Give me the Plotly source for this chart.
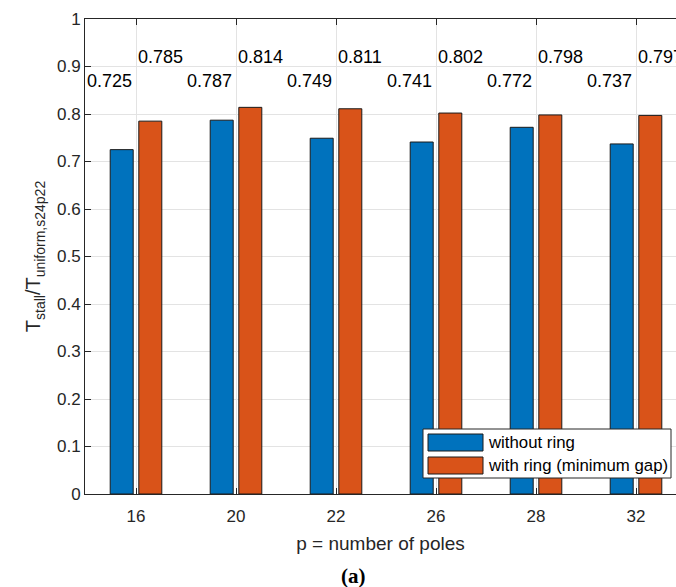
import plotly.graph_objects as go

categories = ["16", "20", "22", "26", "28", "32"]
without_ring = [0.725, 0.787, 0.749, 0.741, 0.772, 0.737]
with_ring = [0.785, 0.814, 0.811, 0.802, 0.798, 0.797]
series_names = ["without ring", "with ring (minimum gap)"]
colors = ["#0072BD", "#D95319"]
label_y = [0.87, 0.92]

FONT = "Liberation Sans, Arial, Helvetica, sans-serif"
AXC = "#262626"

fig = go.Figure()
for vals, name, col, off in [(without_ring, series_names[0], colors[0], -0.258),
                             (with_ring, series_names[1], colors[1], 0.028)]:
    fig.add_trace(go.Bar(x=categories, y=vals, name=name, width=0.23, offset=off,
                         marker=dict(color=col, line=dict(color="#1a1a1a", width=1)),
                         showlegend=False))

# value labels
for i, c in enumerate(categories):
    fig.add_annotation(x=i - 0.5, y=label_y[0], text=f"{without_ring[i]:.3f}", showarrow=False,
                       xanchor="left", yanchor="middle", xshift=-1,
                       font=dict(family=FONT, size=18, color="black"))
    fig.add_annotation(x=i + 0.03, y=label_y[1], text=f"{with_ring[i]:.3f}", showarrow=False,
                       xanchor="left", yanchor="middle", xshift=-3,
                       font=dict(family=FONT, size=18, color="black"))

# custom legend
lx0, lx1, ly0, ly1 = 423, 671, 429, 478
W, H = 676, 587
ml, mr, mt, mb = 85, 0, 19, 93
pw, ph = W - ml - mr, H - mt - mb
def px(x):
    return (x - ml) / pw
def py(y):
    return 1 - (y - mt) / ph
fig.add_shape(type="rect", xref="paper", yref="paper", x0=px(lx0), x1=px(lx1), y0=py(ly1), y1=py(ly0),
              line=dict(color="#262626", width=1), fillcolor="white", layer="above")
for k, (name, col) in enumerate(zip(series_names, colors)):
    top = 434 + k * 23
    fig.add_shape(type="rect", xref="paper", yref="paper", x0=px(428), x1=px(483),
                  y0=py(top + 17), y1=py(top), line=dict(color="#1a1a1a", width=1),
                  fillcolor=col, layer="above")
    fig.add_annotation(xref="paper", yref="paper", x=px(486), y=py(top + 8.5), text=name,
                       showarrow=False, xanchor="left", yanchor="middle",
                       font=dict(family=FONT, size=16.8, color="black"))

fig.add_annotation(xref="paper", yref="paper", x=px(353), y=py(576), text="<b>(a)</b>",
                   showarrow=False, xanchor="center", yanchor="middle",
                   font=dict(family="Liberation Serif, DejaVu Serif, serif", size=21, color="black"))

fig.update_layout(
    width=W, height=H, margin=dict(l=ml, r=mr, t=mt, b=mb),
    paper_bgcolor="white", plot_bgcolor="white",
    barmode="overlay", font=dict(family=FONT, color=AXC),
    xaxis=dict(range=[-0.51, 5.40], showgrid=True, gridcolor="#e3e3e3", gridwidth=1,
               showline=True, linecolor=AXC, linewidth=1, mirror="ticks",
               ticks="inside", ticklen=6, tickcolor=AXC, tickfont=dict(size=17, color=AXC),
               ticklabelstandoff=7,
               title=dict(text="p = number of poles", font=dict(size=19, color=AXC), standoff=11)),
    yaxis=dict(range=[0, 1], dtick=0.1, showgrid=True, gridcolor="#e3e3e3", gridwidth=1,
               showline=True, linecolor=AXC, linewidth=1, zeroline=False,
               ticks="inside", ticklen=6, tickcolor=AXC, tickfont=dict(size=17, color=AXC),
               title=dict(text="T<sub>stall</sub>/T<sub>uniform,s24p22</sub>",
                          font=dict(size=20, color=AXC), standoff=10)),
)

fig.write_html("out.html")
